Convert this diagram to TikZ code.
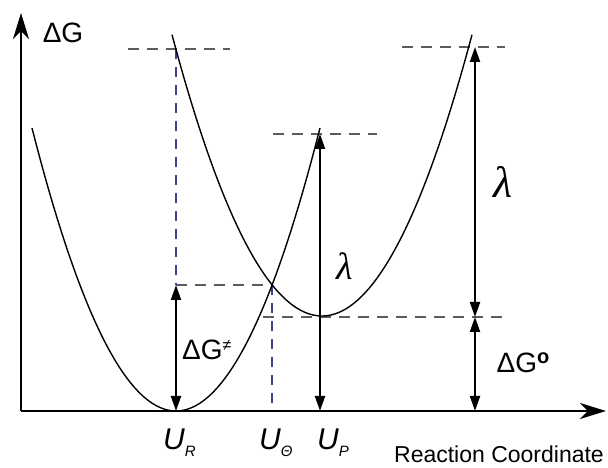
\documentclass[tikz,border=0pt]{standalone}
\usepackage{fontspec}
\setmainfont{Liberation Sans}
\newfontfamily\lamfont{Liberation Serif}
\usetikzlibrary{arrows.meta}
\definecolor{guide}{HTML}{5C5C5C}
\definecolor{dropblue}{HTML}{3E4190}
\tikzset{
  % axes of the energy diagram
  axis/.style={line width=2.4pt, -{Stealth[length=26pt, width=16pt, inset=8pt]}},
  % free-energy parabolas
  curve/.style={line width=1.4pt, black},
  % horizontal energy levels
  level/.style={draw=guide, line width=1.1pt, dash pattern=on 11pt off 8pt},
  % vertical drop lines
  dropline/.style={draw=dropblue, line width=1.1pt, dash pattern=on 10pt off 8pt},
  % double headed energy gaps
  gaparrow/.style={line width=2pt,
    {Triangle[length=15pt, width=10pt]}-{Triangle[length=15pt, width=10pt]}},
  lbl/.style={font=\fontsize{28}{30}\selectfont, inner sep=0pt},
  lam/.style={font=\fontsize{#1}{#1}\selectfont\lamfont\itshape, inner sep=0pt},
  ulbl/.style={font=\fontsize{30}{32}\selectfont\itshape, inner sep=0pt, anchor=base west},
}
\newcommand{\usub}[1]{U\raisebox{-7pt}{\fontsize{15}{15}\selectfont #1}}

\begin{document}
\begin{tikzpicture}[x=10pt, y=10pt]
  \useasboundingbox (0,0) rectangle (60.8,46.8);

  \coordinate (O) at (2.1,5.7);
  \coordinate (ytip) at (2.1,45.5);
  \coordinate (xtip) at (60.6,5.7);
  \coordinate (uR) at (17.6,5.7);
  \coordinate (uT) at (27.2,5.7);
  \coordinate (uP) at (32.0,5.7);
  \coordinate (uS) at (47.5,5.7);
  \coordinate (cross) at (27.2,18.3);
  \coordinate (vert) at (17.6,41.9);
  \coordinate (peak) at (32.0,33.4);
  \coordinate (pmin) at (47.5,15.1);
  \coordinate (ptop) at (47.5,42.1);

  % levels and drop lines
  \draw[level] (vert) ++(-4.8,0) -- ++(10.2,0);
  \draw[level] (peak) ++(-4.7,0) -- ++(10.4,0);
  \draw[level] (ptop) ++(-7.3,0) -- ++(10.3,0);
  \draw[level] (pmin) ++(-21.2,0) -- ++(24.2,0);
  \draw[level] (uR |- cross) -- (cross);
  \draw[dropline] (vert) -- (uR |- cross);
  \draw[dropline] (cross) -- (uT);

  % parabolas
  \draw[curve] plot[domain=3.2:32.0, samples=80] (\x, {5.7+0.13648*(\x-17.6)^2});
  \draw[curve] plot[domain=17.2:47.2, samples=80] (\x, {15.2+0.125*(\x-32.2)^2});

  % axes
  \draw[axis] (O) -- (ytip);
  \draw[axis] (O) -- (xtip);

  % energy gaps
  \draw[gaparrow] (uR |- cross) -- (uR);
  \draw[gaparrow] (peak) -- (uP);
  \draw[gaparrow] (ptop) -- (pmin);
  \draw[gaparrow] (pmin) -- (uS);

  \node[lbl] (dG) at (6.3,43.5) {ΔG};
  \node[lbl, anchor=west] (dGact) at (18.2,11.8) {ΔG\raisebox{9pt}{\fontsize{16}{16}\selectfont ≠}};
  \node[lbl] (dG0) at (52.3,10.5) {ΔG\raisebox{9pt}{\fontsize{20}{20}\selectfont\bfseries o}};
  \node[lam=38] (lamA) at (34.5,20.2) {λ};
  \node[lam=44] (lamB) at (50.3,28.6) {λ};

  \node[ulbl] (labR) at (16.3,1.8) {\usub{R}};
  \node[ulbl] (labT) at (25.9,1.8) {\usub{Θ}};
  \node[ulbl] (labP) at (31.7,1.8) {\usub{P}};
  \node[anchor=base, font=\fontsize{23}{26}\selectfont, inner sep=0pt] (rc) at (49.9,0.5) {Reaction Coordinate};
\end{tikzpicture}
\end{document}
